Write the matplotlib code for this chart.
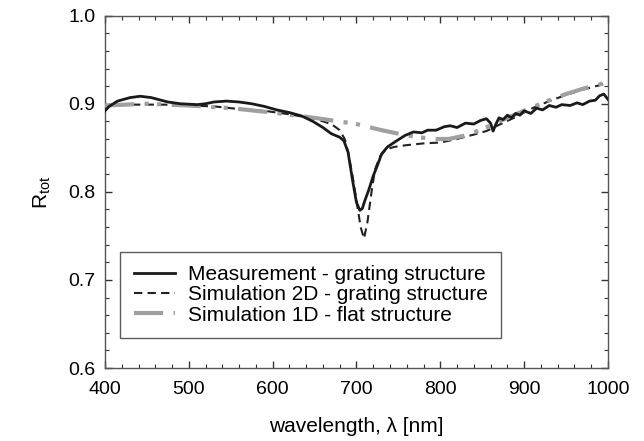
import numpy as np
import matplotlib
matplotlib.use("Agg")
import matplotlib.pyplot as plt
from matplotlib.ticker import MultipleLocator

plt.rcParams['font.family'] = ['Liberation Sans', 'DejaVu Sans']
plt.rcParams['mathtext.fontset'] = 'custom'
plt.rcParams['mathtext.rm'] = 'Liberation Sans'

# measurement - grating structure
wl_meas = [400, 405, 415, 430, 442, 455, 475, 490, 510, 520, 530, 545, 560, 575,
           590, 605, 620, 635, 648, 660, 670, 680, 685, 690, 695, 700, 704, 707,
           710, 715, 720, 725, 730, 737, 748, 758, 768, 778, 785, 795, 805, 812,
           820, 830, 840, 848, 855, 860, 863, 866, 870, 875, 880, 885, 890, 895,
           900, 908, 915, 922, 930, 938, 945, 955, 963, 970, 978, 985, 990, 995, 1000]
r_meas = [0.892, 0.897, 0.903, 0.907, 0.9085, 0.907, 0.902, 0.900, 0.899, 0.900,
          0.902, 0.903, 0.902, 0.900, 0.897, 0.893, 0.890, 0.886, 0.880, 0.873,
          0.866, 0.862, 0.858, 0.845, 0.815, 0.788, 0.779, 0.781, 0.790, 0.803,
          0.818, 0.830, 0.843, 0.851, 0.858, 0.864, 0.868, 0.867, 0.870, 0.870,
          0.874, 0.875, 0.873, 0.878, 0.877, 0.881, 0.883, 0.878, 0.869, 0.876,
          0.884, 0.882, 0.887, 0.884, 0.889, 0.887, 0.892, 0.889, 0.895, 0.893,
          0.898, 0.896, 0.899, 0.898, 0.901, 0.899, 0.903, 0.904, 0.909, 0.911, 0.905]

# simulation 2D - grating structure
wl_sim2d = [400, 430, 470, 500, 530, 560, 590, 620, 650, 670, 680, 686, 690, 695,
            700, 705, 709, 713, 718, 722, 728, 735, 745, 760, 780, 800, 820, 840,
            855, 870, 890, 910, 930, 950, 970, 990, 1000]
r_sim2d = [0.897, 0.899, 0.899, 0.898, 0.897, 0.894, 0.892, 0.888, 0.883, 0.877,
           0.870, 0.860, 0.845, 0.820, 0.790, 0.760, 0.747, 0.765, 0.800, 0.825,
           0.840, 0.848, 0.851, 0.853, 0.855, 0.856, 0.860, 0.865, 0.869, 0.876,
           0.885, 0.895, 0.903, 0.910, 0.916, 0.921, 0.924]

# simulation 1D - flat structure
wl_sim1d = [400, 450, 500, 550, 600, 650, 700, 730, 760, 790, 810, 830, 850, 870,
            890, 910, 930, 950, 970, 990, 1000]
r_sim1d = [0.898, 0.900, 0.898, 0.895, 0.890, 0.884, 0.877, 0.870, 0.864, 0.860,
           0.860, 0.864, 0.871, 0.880, 0.888, 0.896, 0.904, 0.911, 0.917, 0.922, 0.925]

fig = plt.figure(figsize=(6.44, 4.41), dpi=100)
ax = fig.add_axes([0.163, 0.1655, 0.781, 0.799])

ax.plot(wl_sim2d, r_sim2d, color='#222222', lw=1.5, dashes=(4, 2.5),
        label='Simulation 2D - grating structure', zorder=2)
ax.plot(wl_sim1d, r_sim1d, color='#a0a0a0', lw=3, dashes=(7, 2.5, 1, 2, 1, 2.5),
        label='Simulation 1D - flat structure', zorder=3)
ax.plot(wl_meas, r_meas, color='#1a1a1a', lw=2,
        label='Measurement - grating structure', zorder=4)

ax.set_xlim(400, 1000)
ax.set_ylim(0.6, 1.0)
ax.xaxis.set_major_locator(MultipleLocator(100))
ax.xaxis.set_minor_locator(MultipleLocator(20))
ax.yaxis.set_major_locator(MultipleLocator(0.1))
ax.yaxis.set_minor_locator(MultipleLocator(0.02))
ax.yaxis.set_major_formatter(plt.FuncFormatter(lambda v, p: f'{v:.1f}'))
ax.tick_params(which='both', direction='in', top=True, right=True,
               labelsize=14, color='#333333')
ax.tick_params(axis='x', pad=9)
ax.tick_params(axis='y', pad=7)
ax.tick_params(which='major', length=5, width=1)
ax.tick_params(which='minor', length=3, width=0.8)
for s in ax.spines.values():
    s.set_color('#555555')
    s.set_linewidth(1)

ax.set_xlabel('wavelength, λ [nm]', fontsize=15, labelpad=14)
ax.set_ylabel(r'R$_{\mathrm{tot}}$', fontsize=15, labelpad=11)

h, l = ax.get_legend_handles_labels()
order = [2, 0, 1]
leg = ax.legend([h[i] for i in order], [l[i] for i in order], loc='lower left',
                bbox_to_anchor=(0.03, 0.085), borderaxespad=0, fontsize=15,
                frameon=True, fancybox=False, edgecolor='#333333',
                handlelength=2.0, handletextpad=0.6, borderpad=0.65,
                labelspacing=0.05)
leg.get_frame().set_linewidth(1)

fig.savefig('out.png', dpi=100)
